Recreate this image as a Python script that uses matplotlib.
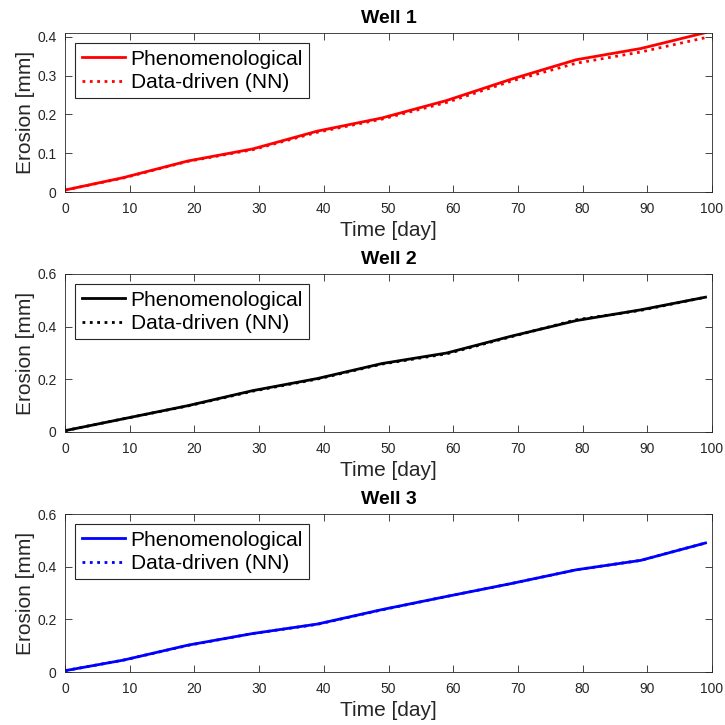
import matplotlib.pyplot as plt

days = [0, 9, 19, 29, 39, 49, 59, 69, 79, 89, 99]

well1_pheno = [0.005, 0.037, 0.080, 0.111, 0.157, 0.191, 0.236, 0.291, 0.341, 0.370, 0.411]
well1_nn = [0.005, 0.036, 0.079, 0.109, 0.154, 0.188, 0.231, 0.286, 0.332, 0.361, 0.398]
well2_pheno = [0.005, 0.050, 0.100, 0.157, 0.203, 0.260, 0.300, 0.364, 0.423, 0.464, 0.512]
well2_nn = [0.005, 0.050, 0.099, 0.155, 0.201, 0.258, 0.297, 0.362, 0.426, 0.462, 0.512]
well3_pheno = [0.005, 0.045, 0.102, 0.146, 0.182, 0.237, 0.287, 0.336, 0.388, 0.424, 0.490]
well3_nn = [0.005, 0.045, 0.101, 0.146, 0.181, 0.236, 0.287, 0.336, 0.388, 0.424, 0.490]

titles = ['Well 1', 'Well 2', 'Well 3']
colors = ['#ff0000', '#000000', '#0000ff']
ylims = [(0, 0.41), (0, 0.6), (0, 0.6)]
yticks = [[0, 0.1, 0.2, 0.3, 0.4], [0, 0.2, 0.4, 0.6], [0, 0.2, 0.4, 0.6]]
series = [(well1_pheno, well1_nn), (well2_pheno, well2_nn), (well3_pheno, well3_nn)]

plt.rcParams['font.family'] = ['Liberation Sans', 'DejaVu Sans']

fig = plt.figure(figsize=(7.25, 7.25), dpi=100)
# axes boxes in figure fractions (left, bottom, width, height)
boxes = [
    (65 / 725, 1 - 192 / 725, 647 / 725, 159 / 725),
    (65 / 725, 1 - 432 / 725, 647 / 725, 158 / 725),
    (65 / 725, 1 - 672 / 725, 647 / 725, 158 / 725),
]

for box, title, c, yl, yt, (ph, nn) in zip(boxes, titles, colors, ylims, yticks, series):
    ax = fig.add_axes(box)
    ax.plot(days, ph, color=c, lw=2, ls='-', label='Phenomenological')
    ax.plot(days, nn, color=c, lw=2, ls=':', label='Data-driven (NN)')
    ax.set_xlim(0, 100)
    ax.set_ylim(*yl)
    ax.set_yticks(yt)
    ax.set_yticklabels([f'{v:g}' for v in yt])
    ax.set_xticks(range(0, 101, 10))
    ax.tick_params(direction='in', top=True, right=True, labelsize=10,
                   colors='#262626', length=5, width=0.6)
    ax.tick_params(axis='x', pad=7)
    ax.tick_params(axis='y', pad=6)
    for s in ax.spines.values():
        s.set_color('#262626')
        s.set_linewidth(0.6)
    ax.set_title(title, fontsize=14, fontweight='bold', pad=7)
    ax.set_xlabel('Time [day]', fontsize=15, color='#262626', labelpad=4)
    ax.set_ylabel('Erosion [mm]', fontsize=15, color='#262626', labelpad=2)
    leg = ax.legend(loc='upper left', fontsize=15, fancybox=False, framealpha=1,
                    edgecolor='#262626', borderpad=0.3, handlelength=2.1,
                    handletextpad=0.25, borderaxespad=0.5, labelspacing=0.2)
    leg.get_frame().set_linewidth(0.8)

fig.savefig('out.png', dpi=100)
